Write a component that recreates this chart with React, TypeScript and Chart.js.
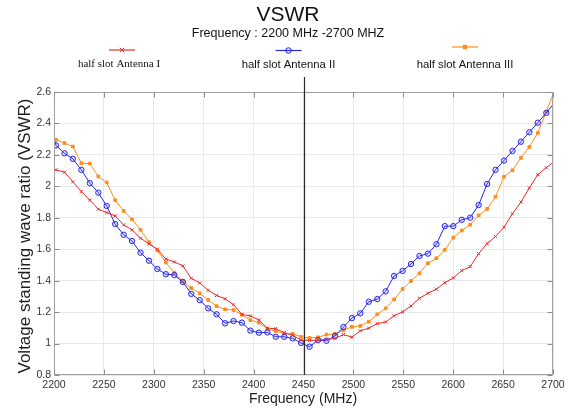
import React, { useEffect, useRef } from "react";
import { Chart, registerables } from "chart.js";

Chart.register(...registerables);

// ---- Data ----
const frequencies = [
  2200, 2202, 2210.5, 2218.9, 2227.4, 2235.9, 2244.4, 2252.8, 2261.3, 2269.8, 2278.2,
  2286.7, 2295.2, 2303.6, 2312.1, 2320.6, 2329.1, 2337.5, 2346, 2354.5, 2362.9,
  2371.4, 2379.9, 2388.3, 2396.8, 2405.3, 2413.8, 2422.2, 2430.7, 2439.2, 2447.6,
  2456.1, 2464.6, 2473, 2481.5, 2490, 2498.5, 2506.9, 2515.4, 2523.9, 2532.3,
  2540.8, 2549.3, 2557.7, 2566.2, 2574.7, 2583.2, 2591.6, 2600.1, 2608.6, 2617,
  2625.5, 2634, 2642.4, 2650.9, 2659.4, 2667.9, 2676.3, 2684.8, 2693.3, 2700,
];

const antennaI = [
  2.11, 2.105, 2.09, 2.029, 1.967, 1.912, 1.855, 1.833, 1.812, 1.755, 1.723,
  1.67, 1.634, 1.6, 1.538, 1.519, 1.494, 1.415, 1.386, 1.339, 1.306,
  1.285, 1.247, 1.185, 1.176, 1.15, 1.098, 1.095, 1.069, 1.052, 1.022,
  1.02, 1.021, 1.027, 1.032, 1.057, 1.041, 1.081, 1.098, 1.127, 1.137,
  1.177, 1.201, 1.239, 1.288, 1.32, 1.346, 1.387, 1.418, 1.464, 1.489,
  1.572, 1.636, 1.681, 1.74, 1.826, 1.9, 1.99, 2.074, 2.119, 2.152,
];

const antennaII = [
  2.3, 2.26, 2.21, 2.175, 2.105, 2.02, 1.96, 1.875, 1.76, 1.692, 1.652,
  1.578, 1.527, 1.474, 1.441, 1.436, 1.392, 1.316, 1.276, 1.224, 1.186,
  1.129, 1.143, 1.133, 1.082, 1.069, 1.071, 1.043, 1.043, 1.033, 1.004,
  0.98, 1.022, 1.018, 1.048, 1.105, 1.162, 1.192, 1.266, 1.283, 1.332,
  1.43, 1.462, 1.506, 1.557, 1.572, 1.632, 1.747, 1.747, 1.787, 1.801,
  1.881, 2.015, 2.105, 2.164, 2.225, 2.284, 2.344, 2.405, 2.467, 2.52,
];

const antennaIII = [
  2.3, 2.296, 2.275, 2.253, 2.147, 2.145, 2.063, 2.024, 1.912, 1.843, 1.79,
  1.723, 1.645, 1.592, 1.516, 1.449, 1.395, 1.353, 1.32, 1.277, 1.238,
  1.218, 1.213, 1.183, 1.149, 1.133, 1.093, 1.08, 1.063, 1.062, 1.043,
  1.036, 1.04, 1.057, 1.061, 1.084, 1.106, 1.112, 1.139, 1.186, 1.224,
  1.281, 1.347, 1.398, 1.447, 1.511, 1.543, 1.596, 1.674, 1.719, 1.756,
  1.815, 1.856, 1.934, 2.061, 2.102, 2.181, 2.251, 2.34, 2.475, 2.584,
];

const seriesLabels = ["half slot Antenna I", "half slot Antenna II", "half slot Antenna III"];
const xTickValues = [2200, 2250, 2300, 2350, 2400, 2450, 2500, 2550, 2600, 2650, 2700];
const yTickValues = [0.8, 1, 1.2, 1.4, 1.6, 1.8, 2, 2.2, 2.4, 2.6];
const markerFrequency = 2450;
const titleText = "VSWR";
const subtitleText = "Frequency : 2200 MHz -2700 MHZ";
const xTitle = "Frequency (MHz)";
const yTitle = "Voltage standing wave ratio (VSWR)";

const RED = "rgb(238,42,42)";
const BLUE = "rgb(40,40,235)";
const ORANGE = "rgb(255,140,28)";
const SANS = "'Liberation Sans', Arial, sans-serif";
const SERIF = "'Liberation Serif', 'Times New Roman', serif";

function drawMarker(ctx: CanvasRenderingContext2D, kind: string, x: number, y: number, color: string) {
  ctx.save();
  ctx.strokeStyle = color;
  ctx.fillStyle = color;
  ctx.lineWidth = 1;
  if (kind === "cross") {
    ctx.beginPath();
    ctx.moveTo(x - 2.2, y - 2.2);
    ctx.lineTo(x + 2.2, y + 2.2);
    ctx.moveTo(x + 2.2, y - 2.2);
    ctx.lineTo(x - 2.2, y + 2.2);
    ctx.stroke();
  } else if (kind === "circle") {
    ctx.beginPath();
    ctx.arc(x, y, 2.8, 0, Math.PI * 2);
    ctx.fillStyle = "rgba(60,60,255,0.15)";
    ctx.fill();
    ctx.stroke();
  } else {
    ctx.fillRect(x - 2.2, y - 2.2, 4.4, 4.4);
  }
  ctx.restore();
}

const decorPlugin = {
  id: "decor",
  afterDatasetsDraw(chart: any) {
    const { ctx, chartArea: a, scales } = chart;
    const xs = scales.x;
    const ys = scales.y;
    ctx.save();
    const L = Math.round(a.left) + 0.5;
    const R = Math.round(a.right) - 0.5;
    const T = Math.round(a.top) + 0.5;
    const B = Math.round(a.bottom) - 0.5;
    ctx.strokeStyle = "#a0a0a0";
    ctx.lineWidth = 1;
    ctx.beginPath();
    ctx.rect(L, T, R - L, B - T);
    ctx.stroke();
    // inward ticks
    ctx.strokeStyle = "#8c8c8c";
    ctx.beginPath();
    for (const v of xTickValues) {
      const px = Math.round(xs.getPixelForValue(v)) + 0.5;
      ctx.moveTo(px, B);
      ctx.lineTo(px, B - 5);
      ctx.moveTo(px, T);
      ctx.lineTo(px, T + 5);
    }
    for (const v of yTickValues) {
      const py = Math.round(ys.getPixelForValue(v)) + 0.5;
      ctx.moveTo(L, py);
      ctx.lineTo(L + 5, py);
      ctx.moveTo(R, py);
      ctx.lineTo(R - 5, py);
    }
    ctx.stroke();
    // vertical marker line
    const mx = Math.round(xs.getPixelForValue(markerFrequency)) + 0.5;
    ctx.strokeStyle = "#2a2a2a";
    ctx.lineWidth = 1.2;
    ctx.beginPath();
    ctx.moveTo(mx, a.top - 15);
    ctx.lineTo(mx, a.bottom);
    ctx.stroke();
    ctx.restore();
  },
  afterDraw(chart: any) {
    const { ctx, chartArea: a } = chart;
    ctx.save();
    ctx.fillStyle = "#111";
    ctx.textAlign = "center";
    ctx.textBaseline = "middle";
    ctx.font = `21px ${SANS}`;
    ctx.fillText(titleText, 288, 15);
    ctx.font = `12.5px ${SANS}`;
    ctx.fillText(subtitleText, 288, 34);

    // legend
    const entries = [
      { cx: 122, ly: 50, tx: 119, ty: 64, color: RED, kind: "cross", font: `11px ${SERIF}` },
      { cx: 288.5, ly: 50.5, tx: 288.5, ty: 64.5, color: BLUE, kind: "circle", font: `11.3px ${SANS}` },
      { cx: 465, ly: 47, tx: 465, ty: 64.5, color: ORANGE, kind: "rect", font: `11.3px ${SANS}` },
    ];
    entries.forEach((e, i) => {
      ctx.strokeStyle = e.color;
      ctx.lineWidth = 1.2;
      ctx.beginPath();
      ctx.moveTo(e.cx - 13, e.ly);
      ctx.lineTo(e.cx + 13, e.ly);
      ctx.stroke();
      drawMarker(ctx, e.kind, e.cx, e.ly, e.color);
      ctx.fillStyle = "#111";
      ctx.font = e.font;
      ctx.fillText(seriesLabels[i], e.tx, e.ty);
    });

    // axis titles
    ctx.fillStyle = "#1e1e1e";
    ctx.font = `14px ${SANS}`;
    ctx.fillText(xTitle, 303, 399);
    ctx.save();
    ctx.translate(25, 236);
    ctx.rotate(-Math.PI / 2);
    ctx.font = `17px ${SANS}`;
    ctx.fillText(yTitle, 0, 0);
    ctx.restore();
    ctx.restore();
  },
};

function pointRadiusFor(r: number) {
  return (c: any) => (c.dataIndex === 0 || c.dataIndex === frequencies.length - 1 ? 0 : r);
}

export default function App() {
  const canvasRef = useRef<HTMLCanvasElement | null>(null);

  useEffect(() => {
    if (!canvasRef.current) return;
    const toXY = (vals: number[]) => vals.map((v, i) => ({ x: frequencies[i], y: v }));
    const chart = new Chart(canvasRef.current, {
      type: "line",
      data: {
        datasets: [
          {
            label: seriesLabels[0],
            data: toXY(antennaI),
            borderColor: RED,
            backgroundColor: RED,
            borderWidth: 1,
            pointStyle: "crossRot",
            pointRadius: pointRadiusFor(2.2),
            pointBorderWidth: 1,
            tension: 0,
          },
          {
            label: seriesLabels[1],
            data: toXY(antennaII),
            borderColor: BLUE,
            backgroundColor: "rgba(60,60,255,0.15)",
            borderWidth: 1,
            pointStyle: "circle",
            pointRadius: pointRadiusFor(2.7),
            pointBorderWidth: 1,
            tension: 0,
          },
          {
            label: seriesLabels[2],
            data: toXY(antennaIII),
            borderColor: ORANGE,
            backgroundColor: ORANGE,
            borderWidth: 1,
            pointStyle: "rect",
            pointRadius: pointRadiusFor(1.9),
            pointBorderWidth: 1,
            tension: 0,
          },
        ],
      },
      options: {
        animation: false,
        responsive: false,
        devicePixelRatio: 1,
        layout: { padding: { top: 92, right: 20, left: 0, bottom: 0 } },
        plugins: {
          legend: { display: false },
          title: { display: false },
          tooltip: { enabled: false },
        },
        scales: {
          x: {
            type: "linear",
            min: 2200,
            max: 2700,
            afterFit: (s: any) => {
              s.height = 34;
            },
            afterBuildTicks: (s: any) => {
              s.ticks = xTickValues.map((v) => ({ value: v }));
            },
            ticks: {
              callback: (v: any) => String(v),
              font: { family: SANS, size: 10.5 },
              color: "#333",
              padding: 4,
              maxRotation: 0,
              autoSkip: false,
            },
            grid: { color: "#e9e9e9", lineWidth: 1, drawTicks: false },
            border: { display: false },
          },
          y: {
            type: "linear",
            min: 0.8,
            max: 2.6,
            afterFit: (s: any) => {
              s.width = 54;
            },
            afterBuildTicks: (s: any) => {
              s.ticks = yTickValues.map((v) => ({ value: v }));
            },
            ticks: {
              callback: (v: any) => String(Math.round(v * 10) / 10),
              font: { family: SANS, size: 10.5 },
              color: "#333",
              padding: 3,
              autoSkip: false,
            },
            grid: { color: "#e9e9e9", lineWidth: 1, drawTicks: false },
            border: { display: false },
          },
        },
      },
      plugins: [decorPlugin],
    });
    return () => chart.destroy();
  }, []);

  return (
    <div style={{ position: "absolute", left: 0, top: 0, width: 573, height: 409, background: "#fff" }}>
      <canvas ref={canvasRef} width={573} height={409} style={{ width: 573, height: 409, display: "block" }} />
    </div>
  );
}
